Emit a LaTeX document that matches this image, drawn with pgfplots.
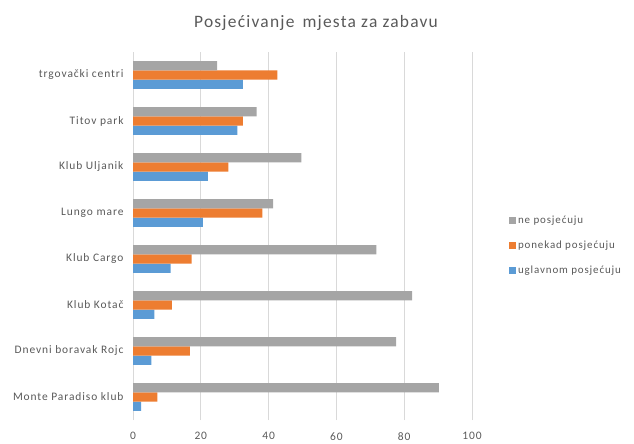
\documentclass[border=0pt]{standalone}
\usepackage{fontspec}
\setmainfont{Carlito}
\newfontfamily\lblfont[LetterSpace=8]{Carlito}
\newfontfamily\ttlfont[LetterSpace=7]{Carlito}
\usepackage{pgfplots}
\pgfplotsset{compat=1.18}
\definecolor{cblue}{HTML}{5B9BD5}
\definecolor{corange}{HTML}{ED7D31}
\definecolor{cgray}{HTML}{A5A5A5}
\definecolor{gridgray}{HTML}{D9D9D9}
\definecolor{labelgray}{HTML}{595959}
\begin{document}
\begin{tikzpicture}
\path[use as bounding box] (0,0) rectangle (634bp,444bp);
\node[font=\ttlfont\fontsize{17.5}{20}\selectfont, text=labelgray] at (316bp,421bp) {Posjećivanje\, mjesta za zabavu};
\begin{axis}[
  at={(133bp,24bp)}, anchor=south west,
  scale only axis, width=339bp, height=368bp,
  xbar=0pt, bar width=9.3bp,
  xmin=0, xmax=100, ymin=-0.5, ymax=7.5,
  ytick={0,...,7},
  yticklabels={Monte Paradiso klub, Dnevni boravak Rojc, Klub Kotač, Klub Cargo, Lungo mare, Klub Uljanik, Titov park, trgovački centri},
  xtick={0,20,...,100},
  xmajorgrids, grid style={draw=gridgray, line width=0.8bp},
  axis lines*=left,
  x axis line style={draw=none},
  y axis line style={draw=gridgray, line width=0.8bp},
  major tick length=0pt,
  tick label style={font=\lblfont\fontsize{11.5}{13}\selectfont, text=labelgray},
  yticklabel style={xshift=-6bp},
  xticklabel style={yshift=-9bp},
  /pgf/number format/assume math mode=true,
  reverse legend,
  legend style={at={(1.1,0.474)}, anchor=west, draw=none, fill=none,
    font=\lblfont\fontsize{11}{13}\selectfont, text=labelgray, row sep=12bp,
    /tikz/every even column/.append style={column sep=1bp}},
  legend cell align=left,
  legend image code/.code={\fill[#1,draw=none] (0bp,-3.5bp) rectangle (7bp,3.5bp);},
]
\addplot[fill=cblue, draw=none] coordinates {(2.4,0) (5.4,1) (6.3,2) (11.1,3) (20.6,4) (22.1,5) (30.8,6) (32.4,7)};
\addlegendentry{uglavnom posjećuju}
\addplot[fill=corange, draw=none] coordinates {(7.2,0) (16.8,1) (11.5,2) (17.3,3) (38.2,4) (28.1,5) (32.4,6) (42.6,7)};
\addlegendentry{ponekad posjećuju}
\addplot[fill=cgray, draw=none] coordinates {(90.2,0) (77.6,1) (82.3,2) (71.8,3) (41.3,4) (49.7,5) (36.5,6) (24.8,7)};
\addlegendentry{ne posjećuju}
\end{axis}
\end{tikzpicture}
\end{document}
